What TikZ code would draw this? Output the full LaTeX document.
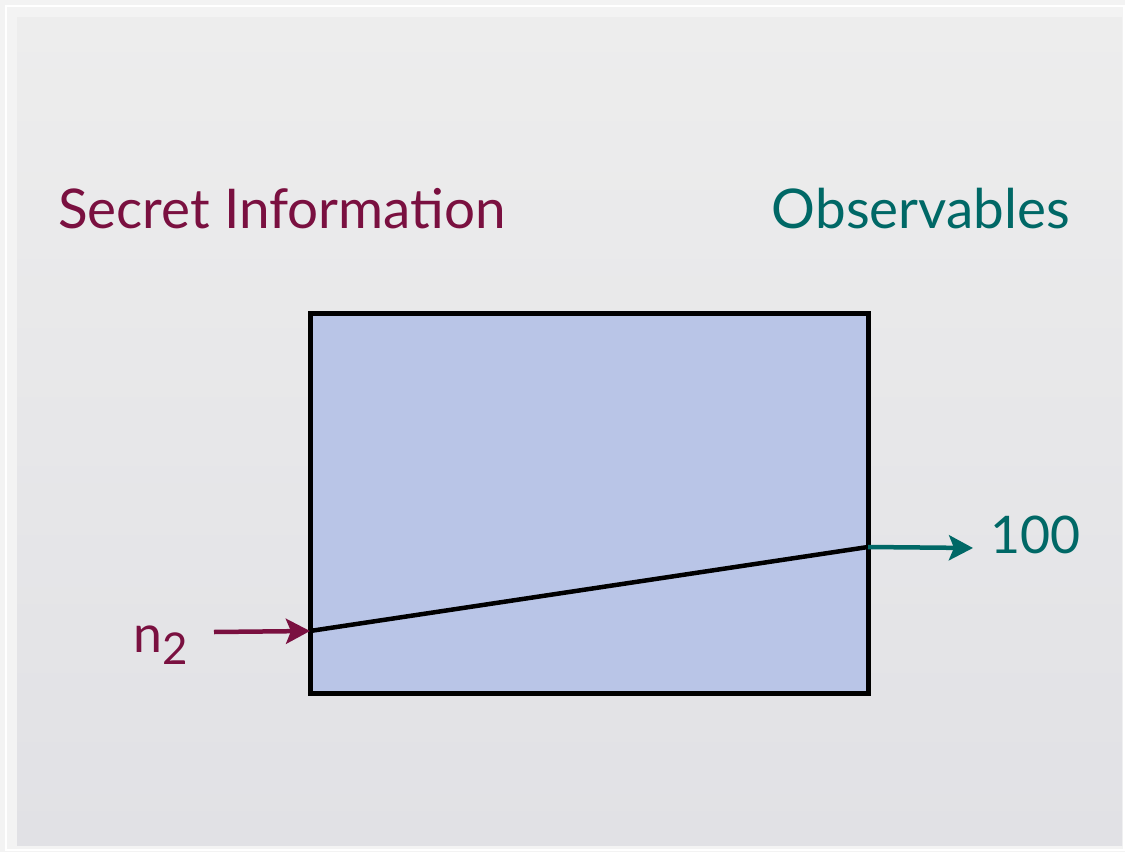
\documentclass[tikz,border=0pt]{standalone}
\usepackage{fontspec}
\setmainfont{Lato}
\usetikzlibrary{arrows.meta}
\definecolor{secretc}{HTML}{7A1040}
\definecolor{obsc}{HTML}{006866}
\definecolor{boxfill}{HTML}{B9C5E7}
\definecolor{pagebg}{HTML}{F3F3F3}
\definecolor{slidetop}{HTML}{EDEDED}
\definecolor{slidebot}{HTML}{E1E1E5}
\tikzset{
  heading/.style={font=\fontsize{55}{62}\selectfont, inner sep=0pt},
  label/.style={font=\fontsize{52}{58}\selectfont, inner sep=0pt},
  channel/.style={draw=black, line width=5bp, fill=boxfill, outer sep=0pt},
  flow/.style={line width=4.5bp},
  tip/.style={-{Stealth[length=24bp, width=25bp, inset=5bp]}, line width=4.5bp},
}
\begin{document}
\begin{tikzpicture}[x=1bp, y=-1bp]
  \useasboundingbox (0,0) rectangle (1125,852);
  % page and slide background
  \fill[pagebg] (0,0) rectangle (1125,852);
  \draw[white, line width=2bp] (6,6) rectangle (1124,850);
  \shade[top color=slidetop, bottom color=slidebot] (17,17) rectangle (1122,845);

  % headings
  \node[heading, text=secretc, anchor=base west] (secret) at (58,228) {Secret Information};
  \node[heading, text=obsc, anchor=base east] (obs) at (1070,228) {Observables};

  % channel box
  \node[channel, minimum width=558bp, minimum height=380bp, inner sep=0pt, anchor=north west] (box) at (310,313) {};
  \coordinate (in) at (310,631);
  \coordinate (out) at (868,547);
  \draw[flow, line cap=round] (in) -- (out);

  % input and output
  \node[label, text=secretc, anchor=base west] (n) at (133,652) {n\raisebox{-0.24em}{\fontsize{44}{50}\selectfont 2}};
  \coordinate (nstart) at (214,632);
  \draw[tip, secretc] (nstart) -- (in);
  \node[label, text=obsc, anchor=base west] (hundred) at (990,553) {100};
  \coordinate (oend) at (973,548);
  \draw[tip, obsc] (out) -- (oend);
\end{tikzpicture}
\end{document}
